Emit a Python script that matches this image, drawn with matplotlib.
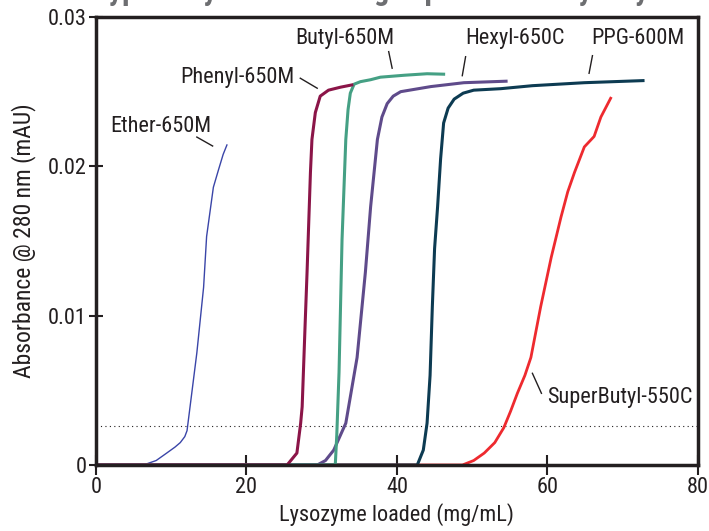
import matplotlib
matplotlib.use("Agg")
import matplotlib.pyplot as plt
from matplotlib import font_manager

# look for a condensed sans font; the reference uses a narrow face
narrow = None
for e in font_manager.fontManager.ttflist:
    fn = e.fname.lower()
    if ("condensed" in fn or "narrow" in fn) and e.style == "normal" and e.weight in (400, "normal", "regular"):
        if "bold" in fn or "light" in fn or "medium" in fn or "semi" in fn or "thin" in fn or "black" in fn:
            continue
        if narrow is None or "roboto" in fn:
            narrow = e

if narrow is not None:
    plt.rcParams['font.family'] = [narrow.name, 'DejaVu Sans']
    plt.rcParams['font.stretch'] = narrow.stretch
    fs = 16
else:
    plt.rcParams['font.family'] = ['DejaVu Sans']
    fs = 13

# breakthrough curves (x: mg/mL loaded, y: absorbance)
ether_x = [0, 6.3, 8.0, 9.4, 10.5, 11.2, 11.8, 12.1, 12.5, 13.4, 14.3, 14.7, 15.6, 16.3, 16.9, 17.4]
ether_y = [0, 0, 0.0003, 0.0008, 0.0012, 0.0015, 0.0019, 0.0023, 0.0039, 0.0075, 0.0119,
           0.0153, 0.0186, 0.0198, 0.0208, 0.02143]

phenyl_x = [0, 25.4, 26.7, 27.2, 27.4, 27.8, 28.05, 28.5, 28.7, 29.15, 29.8, 30.9, 32.5, 34.0]
phenyl_y = [0, 0, 0.0008, 0.0028, 0.0039, 0.0095, 0.0129, 0.0196, 0.0218, 0.0236, 0.0247,
            0.0251, 0.0253, 0.02545]

butyl_x = [0, 31.8, 32.0, 32.3, 32.7, 33.2, 33.5, 33.8, 34.3, 35.15, 36.5, 37.8, 41.0, 44.0, 46.2]
butyl_y = [0, 0, 0.002, 0.0062, 0.0151, 0.0218, 0.0238, 0.0249, 0.0255, 0.02567, 0.0258,
           0.02597, 0.0261, 0.0262, 0.02617]

hexyl_x = [0, 29.4, 30.5, 31.6, 33.2, 34.7, 35.8, 36.5, 37.4, 38.0, 38.7, 39.5, 40.5, 44.5, 48.9, 54.5]
hexyl_y = [0, 0, 0.0003, 0.001, 0.0028, 0.0072, 0.0129, 0.0173, 0.0218, 0.0233, 0.0242,
           0.0247, 0.025, 0.02534, 0.0256, 0.0257]

ppg_x = [0, 42.7, 43.5, 44.0, 44.4, 44.7, 45.0, 45.4, 45.8, 46.2, 46.8, 47.6, 48.8, 50.2,
         53.8, 58.0, 64.9, 72.7]
ppg_y = [0, 0, 0.001, 0.0028, 0.006, 0.0106, 0.0145, 0.0173, 0.0205, 0.0229, 0.0239, 0.0245,
         0.0249, 0.0251, 0.0252, 0.0254, 0.0256, 0.02574]

superbutyl_x = [0, 48.7, 50.2, 51.6, 53.0, 54.2, 55.1, 56.0, 57.0, 57.8, 59.1, 60.5, 61.8,
                62.7, 63.6, 64.9, 66.2, 67.1, 68.4]
superbutyl_y = [0, 0, 0.0003, 0.0008, 0.0015, 0.0025, 0.0036, 0.0048, 0.006, 0.0072, 0.0106,
                0.0139, 0.0166, 0.0183, 0.0196, 0.0213, 0.022, 0.0233, 0.02456]

threshold = 0.0026

x_ticks = [0, 20, 40, 60, 80]
y_ticks = [0, 0.01, 0.02, 0.03]
y_tick_labels = ["0", "0.01", "0.02", "0.03"]

ink = "#231F20"

fig = plt.figure(figsize=(7.09, 5.31), dpi=100)
ax = fig.add_axes([0.1354, 0.1243, 0.849, 0.8437])

ax.plot([0, 80], [threshold, threshold], color=ink, lw=0.8, ls=(0, (1, 3)))

ax.plot(ether_x, ether_y, color="#3A45A8", lw=1.0)
ax.plot(superbutyl_x, superbutyl_y, color="#EE2A2F", lw=2.0)
ax.plot(ppg_x, ppg_y, color="#0D3B52", lw=2.2)
ax.plot(hexyl_x, hexyl_y, color="#5F4B8B", lw=2.2)
ax.plot(butyl_x, butyl_y, color="#45A084", lw=2.2)
ax.plot(phenyl_x, phenyl_y, color="#8B1548", lw=2.2)

# labels with short leader lines
labels = [
    ("Ether-650M", 8.65, 0.0227, (13.4, 15.5), (0.02196, 0.02136)),
    ("Phenyl-650M", 18.77, 0.02595, (27.15, 29.4), (0.0259, 0.02523)),
    ("Butyl-650M", 33.08, 0.02853, (38.9, 39.36), (0.02768, 0.02657)),
    ("Hexyl-650C", 55.64, 0.02853, (49.12, 48.68), (0.02734, 0.02607)),
    ("PPG-600M", 72.08, 0.02853, (65.98, 65.53), (0.02741, 0.02623)),
    ("SuperButyl-550C", 69.6, 0.00455, (58.0, 59.2), (0.00614, 0.0048)),
]
for name, tx, ty, lx, ly in labels:
    ax.text(tx, ty, name, ha="center", va="center", fontsize=fs, color=ink)
    ax.plot(lx, ly, color=ink, lw=1.0)

ax.set_xlim(0, 80)
ax.set_ylim(0, 0.03)
ax.set_xticks(x_ticks)
ax.set_yticks(y_ticks)
ax.set_yticklabels(y_tick_labels)
ax.tick_params(axis="x", direction="inout", length=14, width=1.5, colors=ink,
               labelsize=fs, pad=2)
ax.tick_params(axis="y", direction="inout", length=10, width=1.5, colors=ink,
               labelsize=fs, pad=2)
for s in ax.spines.values():
    s.set_linewidth(2.5)
    s.set_color(ink)

ax.set_xlabel("Lysozyme loaded (mg/mL)", fontsize=fs, color=ink, labelpad=3)
ax.set_ylabel("Absorbance @ 280 nm (mAU)", fontsize=fs + 1, color=ink, labelpad=8)

# cropped title at the very top of the reference, only its lower edge shows
fig.text(92 / 709, 1 + 0.5 / 531, "Typical dynamic binding capacities for lysozyme",
         ha="left", va="baseline", fontsize=22, fontweight="bold", color="#6D6E71")

plt.savefig("out.png", dpi=100)
plt.close()
